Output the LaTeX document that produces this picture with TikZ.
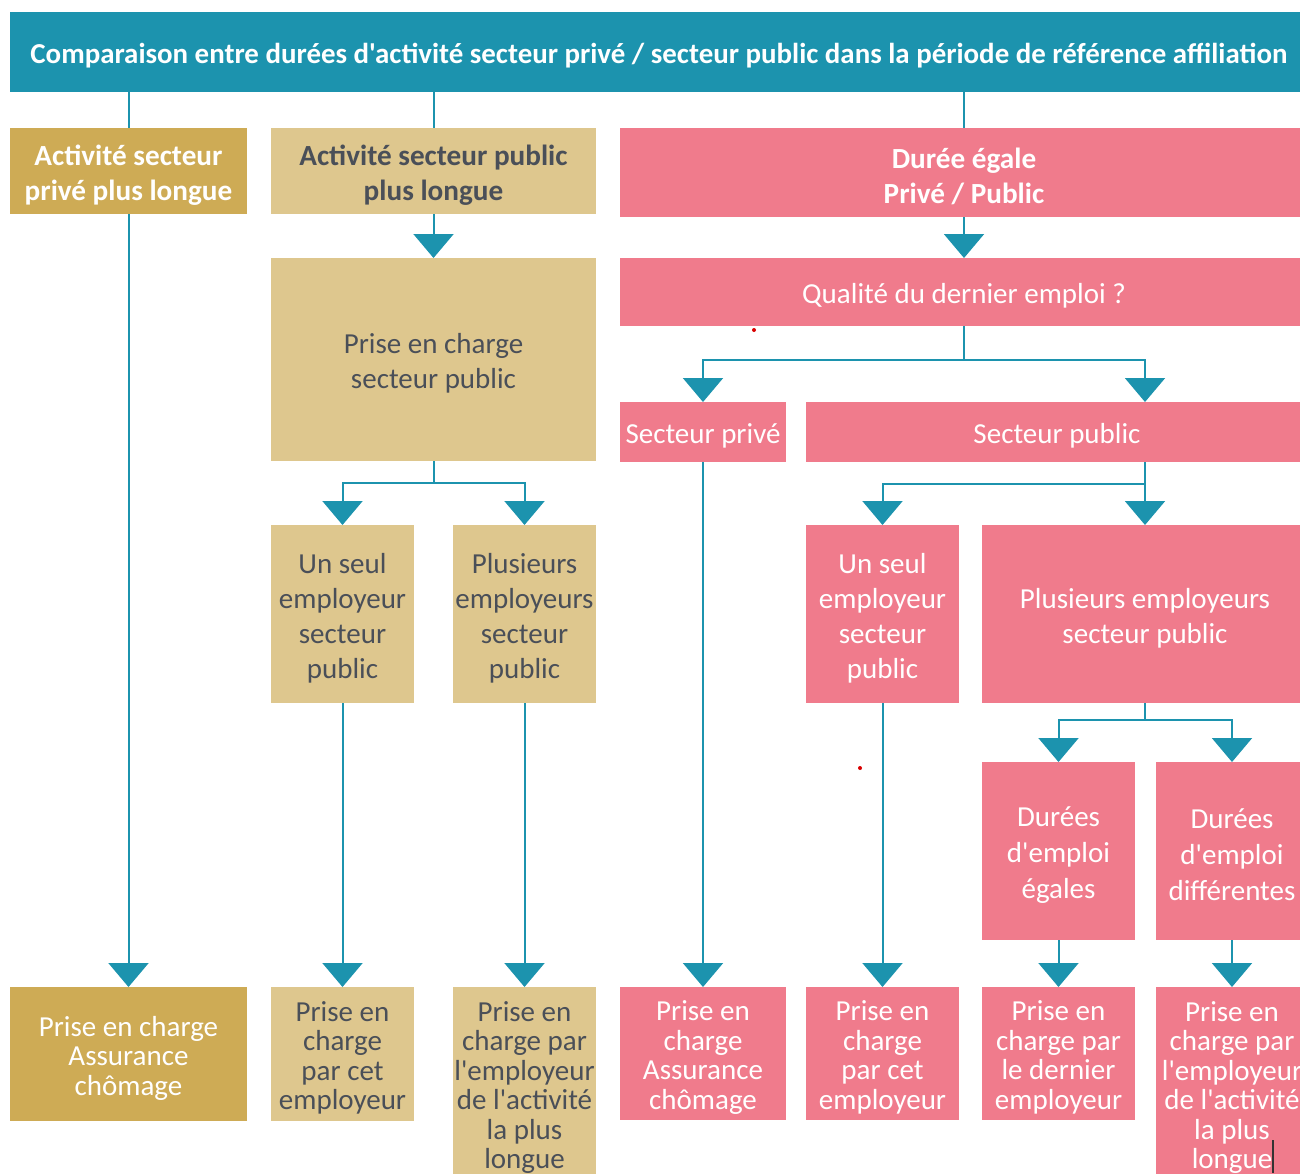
\documentclass[tikz,border=0pt]{standalone}
\usepackage{fontspec}
\setmainfont{Carlito}[Ligatures=TeXOff]
\usetikzlibrary{arrows.meta}
\definecolor{tealc}{HTML}{1C93AE}
\definecolor{dgold}{HTML}{CEAB55}
\definecolor{lgold}{HTML}{DEC78E}
\definecolor{pinkc}{HTML}{F07B8C}
\definecolor{darktext}{HTML}{4A4F58}
% #1 box style, #2 name, #3 top-left corner, #4 width, #5 height, #6 text style, #7 text
\newcommand\bx[7]{%
  \node[#1, minimum width=#4pt, minimum height=#5pt] (#2) at (#3) {};
  \node[txt, #6] (#2t) at ([yshift=-4pt]#2.center) {#7};}
\begin{document}
\begin{tikzpicture}[x=1pt,y=-1pt,
  base/.style={inner sep=0pt, outer sep=0pt, anchor=north west},
  txt/.style={inner sep=0pt, outer sep=0pt, align=center},
  tb/.style={base, fill=tealc},
  dg/.style={base, fill=dgold},
  lg/.style={base, fill=lgold},
  pk/.style={base, fill=pinkc},
  wt/.style={text=white},
  dk/.style={text=darktext},
  tt/.style={font=\bfseries\fontsize{28.9}{31}\selectfont},
  hd/.style={font=\bfseries\fontsize{29.2}{35}\selectfont},
  bd/.style={font=\fontsize{29}{35}\selectfont},
  bdd/.style={font=\fontsize{29}{36}\selectfont},
  bt/.style={font=\fontsize{29}{29.5}\selectfont},
  conn/.style={draw=tealc, line width=2pt},
  arr/.style={conn, -{Triangle[width=40pt,length=24pt]}},
]
\fill[white] (0,0) rectangle (1300,1173);
\useasboundingbox (0,0) rectangle (1300,1173);

% title and first level
\bx{tb}{title}{10,12}{1298}{80}{wt,tt}{Comparaison entre durées d'activité secteur privé / secteur public dans la période de référence affiliation}
\bx{dg}{a1}{10,128}{237}{86}{wt,hd}{Activité secteur\\privé plus longue}
\bx{lg}{a2}{271,128}{325}{86}{dk,hd}{Activité secteur public\\plus longue}
\bx{pk}{a3}{620,128}{688}{89}{wt,hd}{Durée égale\\Privé / Public}

% second level
\bx{lg}{p2}{271,258}{325}{203}{dk,bd}{Prise en charge\\secteur public}
\bx{pk}{q}{620,258}{688}{68}{wt,bd}{Qualité du dernier emploi ?}
\bx{pk}{spv}{620,402}{166}{60}{wt,bd}{Secteur privé}
\bx{pk}{spb}{806,402}{502}{60}{wt,bd}{Secteur public}

% third level
\bx{lg}{u1}{271,525}{143}{178}{dk,bd}{Un seul\\employeur\\secteur\\public}
\bx{lg}{m1}{453,525}{143}{178}{dk,bd}{Plusieurs\\employeurs\\secteur\\public}
\bx{pk}{u2}{806,525}{153}{178}{wt,bd}{Un seul\\employeur\\secteur\\public}
\bx{pk}{m2}{982,525}{326}{178}{wt,bd}{Plusieurs employeurs\\secteur public}
\bx{pk}{de}{982,762}{153}{178}{wt,bdd}{Durées\\d'emploi\\égales}
\bx{pk}{dd}{1156,762}{152}{178}{wt,bdd}{Durées\\d'emploi\\différentes}

% bottom level
\bx{dg}{b1}{10,987}{237}{134}{wt,bt}{Prise en charge\\Assurance\\chômage}
\bx{lg}{b2}{271,987}{143}{134}{dk,bt}{Prise en\\charge\\par cet\\employeur}
\bx{lg}{b3}{453,987}{143}{193}{dk,bt}{Prise en\\charge par\\l'employeur\\de l'activité\\la plus\\longue}
\bx{pk}{b4}{620,987}{166}{133}{wt,bt}{Prise en\\charge\\Assurance\\chômage}
\bx{pk}{b5}{806,987}{153}{133}{wt,bt}{Prise en\\charge\\par cet\\employeur}
\bx{pk}{b6}{982,987}{153}{133}{wt,bt}{Prise en\\charge par\\le dernier\\employeur}
\bx{pk}{b7}{1156,987}{152}{193}{wt,bt}{Prise en\\charge par\\l'employeur\\de l'activité\\la plus\\longue}

% connectors
\draw[conn] (title.south -| a1.north) -- (a1.north);
\draw[conn] (title.south -| a2.north) -- (a2.north);
\draw[conn] (title.south -| a3.north) -- (a3.north);
\draw[arr] (a1.south) -- (b1.north);
\draw[arr] (a2.south) -- (p2.north);
\draw[arr] (a3.south) -- (q.north);

\draw[conn] (p2.south) -- ++(0,22) coordinate (j1);
\draw[arr] (j1) -| (u1.north);
\draw[arr] (j1) -| (m1.north);
\draw[arr] (u1.south) -- (b2.north);
\draw[arr] (m1.south) -- (b3.north);

\draw[conn] (q.south) -- ++(0,34) coordinate (j2);
\draw[arr] (j2) -| (spv.north);
\draw[arr] (j2) -| (m2.north |- spb.north);
\draw[arr] (spv.south) -- (b4.north);

\draw[conn] (m2.north |- spb.south) -- ++(0,22) coordinate (j3);
\draw[arr] (j3) -| (u2.north);
\draw[arr] (j3) -- (m2.north);
\draw[arr] (u2.south) -- (b5.north);

\draw[conn] (m2.south) -- ++(0,17) coordinate (j4);
\draw[arr] (j4) -| (de.north);
\draw[arr] (j4) -| (dd.north);
\draw[arr] (de.south) -- (b6.north);
\draw[arr] (dd.south) -- (b7.north);

% small marks visible in the reference
\fill[red!85!black] (754,330) circle (2pt);
\fill[red!85!black] (860,768) circle (2pt);
\draw[black!80, line width=1.2pt] (1273,1140) -- (1273,1173);
\end{tikzpicture}
\end{document}
